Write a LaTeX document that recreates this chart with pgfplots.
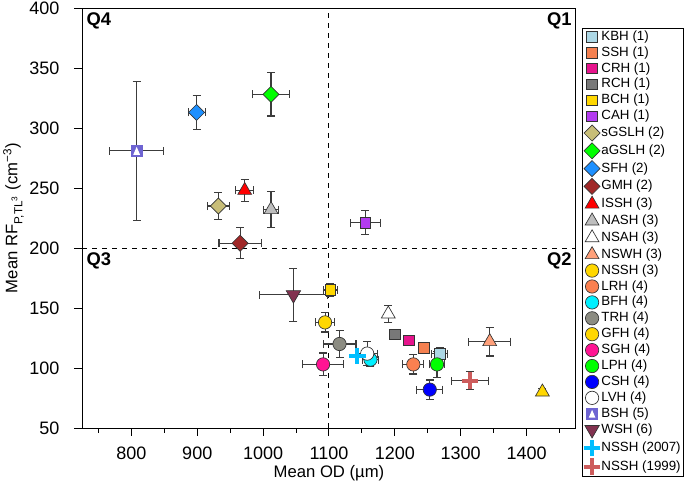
\documentclass[border=0pt]{standalone}
\usepackage{fontspec}
\setmainfont{Liberation Sans}
\usepackage{pgfplots}
\pgfplotsset{compat=1.18}
\usetikzlibrary{calc}
\definecolor{ebc}{RGB}{60,60,60}
\definecolor{cKBH}{RGB}{173,216,230}
\definecolor{cSSH}{RGB}{244,128,80}
\definecolor{cCRH}{RGB}{230,20,140}
\definecolor{cRCH}{RGB}{120,120,120}
\definecolor{cGOLD}{RGB}{255,215,0}
\definecolor{cCAH}{RGB}{180,60,240}
\definecolor{cSG}{RGB}{200,190,120}
\definecolor{cGREEN}{RGB}{0,255,0}
\definecolor{cSFH}{RGB}{30,144,255}
\definecolor{cGMH}{RGB}{160,40,40}
\definecolor{cNASH}{RGB}{190,190,190}
\definecolor{cNSWH}{RGB}{255,160,122}
\definecolor{cLRH}{RGB}{250,128,80}
\definecolor{cBFH}{RGB}{0,240,255}
\definecolor{cTRH}{RGB}{140,140,130}
\definecolor{cSGH}{RGB}{255,20,147}
\definecolor{cCSH}{RGB}{0,0,255}
\definecolor{cBSH}{RGB}{110,100,210}
\definecolor{cWSH}{RGB}{130,50,80}
\definecolor{c2007}{RGB}{0,190,255}
\definecolor{c1999}{RGB}{205,92,92}
\pgfdeclareplotmark{bsh}{%
  \pgfpathrectangle{\pgfqpoint{-\pgfplotmarksize}{-\pgfplotmarksize}}{\pgfqpoint{2\pgfplotmarksize}{2\pgfplotmarksize}}%
  \pgfusepathqfillstroke
  \pgfsetfillcolor{white}%
  \pgfpathmoveto{\pgfqpoint{0pt}{0.7\pgfplotmarksize}}%
  \pgfpathlineto{\pgfqpoint{-0.6\pgfplotmarksize}{-0.7\pgfplotmarksize}}%
  \pgfpathlineto{\pgfqpoint{0.6\pgfplotmarksize}{-0.7\pgfplotmarksize}}%
  \pgfpathclose
  \pgfusepathqfill
}
\pgfplotsset{
  eb/.style={error bars/.cd, x dir=both, x explicit, y dir=both, y explicit,
    error bar style={line width=0.65pt, draw=ebc},
    error mark options={rotate=90, mark size=2.4pt, line width=0.65pt, draw=ebc}, /pgfplots/.cd},
  sq/.style={only marks, mark=square*, mark size=3.2pt, mark options={fill=#1, draw=black!80, line width=0.4pt}, eb},
  ci/.style={only marks, mark=*, mark size=4pt, mark options={fill=#1, draw=black!80, line width=0.4pt}, eb},
  di/.style={only marks, mark=square*, mark size=3.4pt, mark options={rotate=45, fill=#1, draw=black!80, line width=0.4pt}, eb},
  tr/.style={only marks, mark=triangle*, mark size=4.8pt, mark options={fill=#1, draw=black!80, line width=0.4pt}, eb},
}
\begin{document}
\begin{tikzpicture}
\begin{axis}[
  scale only axis, width=296.4pt, height=252pt,
  xmin=725, xmax=1475, ymin=50, ymax=400,
  xtick={800,900,...,1400}, minor xtick={750,850,...,1450},
  ytick={50,100,...,400},
  tick align=outside, major tick length=4.6pt, minor tick length=2.8pt,
  tick style={black, line width=0.6pt},
  xtick pos=bottom, ytick pos=left,
  axis line style={line width=0.6pt},
  /pgf/number format/assume math mode=true,
  /pgf/number format/1000 sep={},
  tick label style={font=\fontsize{10.8}{13}\selectfont},
  yticklabel style={xshift=-5.4pt},
  xticklabel style={yshift=-3.2pt},
  label style={font=\fontsize{10}{12}\selectfont},
  xlabel={Mean OD (µm)},
  ylabel={Mean RF\textsubscript{P,TL\textsuperscript{3}} (cm\textsuperscript{−3})},
  xlabel style={yshift=3.6pt},
  ylabel style={yshift=-3.6pt},
  clip=false,
  legend cell align=left,
  legend image code/.code={\draw[#1] plot coordinates {(0.15cm,0cm)};},
  legend style={at={(1.012,0.953)}, anchor=north west, draw=black, line width=0.6pt,
    font=\fontsize{8}{9}\selectfont, row sep=1.05pt, inner sep=0.8pt,
    nodes={inner sep=0.6pt}},
]
\coordinate (sw) at (rel axis cs:0,0);
\coordinate (ne) at (rel axis cs:1,1);
\draw[dashed, line width=0.6pt] (axis cs:1100,50) -- (axis cs:1100,400);
\draw[dashed, line width=0.6pt] (axis cs:725,200) -- (axis cs:1475,200);
\node[anchor=north west, font=\bfseries\fontsize{11}{13}\selectfont, inner sep=2.5pt] at (rel axis cs:0,1) {Q4};
\node[anchor=north east, font=\bfseries\fontsize{11}{13}\selectfont, inner sep=2.5pt] at (rel axis cs:1,1) {Q1};
\node[anchor=north west, font=\bfseries\fontsize{11}{13}\selectfont, inner sep=2.5pt] at (axis cs:725,200) {Q3};
\node[anchor=north east, font=\bfseries\fontsize{11}{13}\selectfont, inner sep=2.5pt] at (axis cs:1475,200) {Q2};

\addplot[sq=cKBH] coordinates {(1268,112) +- (12,5)}; \addlegendentry{KBH (1)}
\addplot[sq=cSSH] coordinates {(1244,117) +- (5,4)}; \addlegendentry{SSH (1)}
\addplot[sq=cCRH] coordinates {(1221,123) +- (4,3)}; \addlegendentry{CRH (1)}
\addplot[sq=cRCH] coordinates {(1200,128) +- (4,3)}; \addlegendentry{RCH (1)}
\addplot[sq=cGOLD] coordinates {(1102,165) +- (11,5)}; \addlegendentry{BCH (1)}
\addplot[sq=cCAH] coordinates {(1155,221) +- (23,10)}; \addlegendentry{CAH (1)}
\addplot[di=cSG] coordinates {(932,235) +- (17,11)}; \addlegendentry{sGSLH (2)}
\addplot[di=cGREEN] coordinates {(1012,328) +- (28,18)}; \addlegendentry{aGSLH (2)}
\addplot[di=cSFH] coordinates {(899,313) +- (13,14)}; \addlegendentry{SFH (2)}
\addplot[di=cGMH] coordinates {(965,204) +- (32,13)}; \addlegendentry{GMH (2)}
\addplot[tr=red] coordinates {(972,248) +- (14,9)}; \addlegendentry{ISSH (3)}
\addplot[tr=cNASH] coordinates {(1012,232) +- (12,15)}; \addlegendentry{NASH (3)}
\addplot[tr=white] coordinates {(1190,145) +- (3,7)}; \addlegendentry{NSAH (3)}
\addplot[tr=cNSWH] coordinates {(1344,122) +- (32,12)}; \addlegendentry{NSWH (3)}
\addplot[forget plot, tr=cGOLD] coordinates {(1424,80) +- (5,3)};
\addlegendimage{only marks, mark=*, mark size=4pt, mark options={fill=cGOLD, draw=black!80, line width=0.4pt}}
\addlegendentry{NSSH (3)}
\addplot[ci=cLRH] coordinates {(1228,103) +- (16,8)}; \addlegendentry{LRH (4)}
\addplot[ci=cBFH] coordinates {(1163,107) +- (12,6)}; \addlegendentry{BFH (4)}
\addplot[ci=cTRH] coordinates {(1116,120) +- (25,11)}; \addlegendentry{TRH (4)}
\addplot[ci=cGOLD] coordinates {(1094,138) +- (14,8)}; \addlegendentry{GFH (4)}
\addplot[ci=cSGH] coordinates {(1091,103) +- (31,9.5)}; \addlegendentry{SGH (4)}
\addplot[ci=cGREEN] coordinates {(1264,103) +- (12,11)}; \addlegendentry{LPH (4)}
\addplot[ci=cCSH] coordinates {(1253,82) +- (20,8)}; \addlegendentry{CSH (4)}
\addplot[ci=white] coordinates {(1158,112) +- (15,10)}; \addlegendentry{LVH (4)}
\addplot[only marks, mark=bsh, mark size=3.4pt, mark options={fill=cBSH, draw=cBSH, line width=0.4pt}, eb] coordinates {(808,281) +- (41,58)}; \addlegendentry{BSH (5)}
\addplot[only marks, mark=triangle*, mark size=5pt, mark options={rotate=180, fill=cWSH, draw=black!80, line width=0.4pt}, eb] coordinates {(1046,161) +- (52,22)}; \addlegendentry{WSH (6)}
\addplot[only marks, mark=+, mark size=5pt, mark options={draw=c2007, line width=2.4pt}] coordinates {(1143,110)}; \addlegendentry{NSSH (2007)}
\addplot[only marks, mark=+, mark size=5pt, mark options={draw=c1999, line width=2.4pt}, eb] coordinates {(1314,89.5) +- (28,7.5)}; \addlegendentry{NSSH (1999)}
\end{axis}
\pgfresetboundingbox
\path[use as bounding box] ($(sw)+(-49.2pt,-34.8pt)$) rectangle ($(ne)+(65.4pt,4.8pt)$);
\end{tikzpicture}
\end{document}
